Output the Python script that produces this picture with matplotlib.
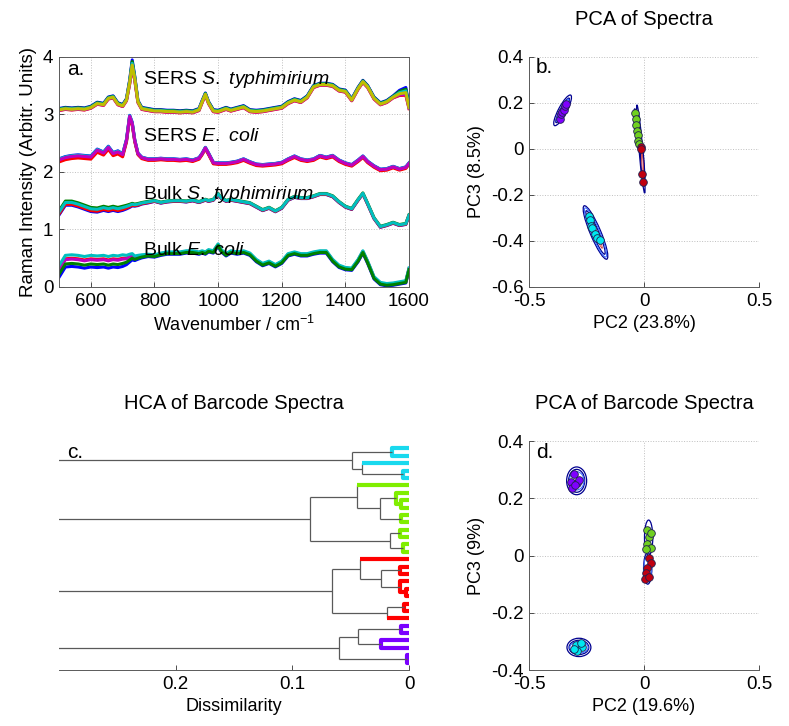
import numpy as np
import matplotlib
matplotlib.use('Agg')
import matplotlib.pyplot as plt
from matplotlib.patches import Ellipse

plt.rcParams['font.family'] = ['Liberation Sans', 'DejaVu Sans']
plt.rcParams['mathtext.fontset'] = 'custom'
plt.rcParams['mathtext.rm'] = 'Liberation Sans'
plt.rcParams['mathtext.it'] = 'Liberation Sans:italic'
plt.rcParams['font.size'] = 13
plt.rcParams['xtick.labelsize'] = 13.5
plt.rcParams['ytick.labelsize'] = 13.5

# ---- panel a: spectra ----
wn = [500, 520, 540, 560, 580, 600, 620, 640, 655, 670, 685, 700,
      712, 722, 730, 738, 748, 760, 780, 800, 820, 840, 860, 880,
      900, 920, 940, 950, 960, 970, 985, 1000, 1010, 1025, 1040, 1060,
      1080, 1100, 1120, 1140, 1160, 1180, 1200, 1220, 1240, 1260, 1280, 1300,
      1320, 1340, 1360, 1380, 1400, 1420, 1440, 1455, 1470, 1490, 1510, 1530,
      1550, 1570, 1590, 1600]

sers_styph = [3.08, 3.10, 3.09, 3.10, 3.09, 3.12, 3.19, 3.17, 3.28, 3.30, 3.18, 3.15,
              3.25, 3.55, 3.86, 3.62, 3.22, 3.10, 3.08, 3.06, 3.06, 3.05, 3.05, 3.04,
              3.05, 3.04, 3.08, 3.22, 3.35, 3.20, 3.06, 3.05, 3.07, 3.10, 3.07, 3.10,
              3.13, 3.06, 3.05, 3.06, 3.08, 3.10, 3.12, 3.20, 3.25, 3.22, 3.30, 3.48,
              3.52, 3.52, 3.50, 3.42, 3.40, 3.25, 3.45, 3.57, 3.48, 3.28, 3.18, 3.22,
              3.30, 3.36, 3.38, 3.12]
sers_ecoli = [2.21, 2.25, 2.27, 2.28, 2.27, 2.26, 2.38, 2.33, 2.43, 2.32, 2.35, 2.30,
              2.55, 2.97, 2.85, 2.55, 2.32, 2.25, 2.22, 2.22, 2.23, 2.22, 2.22, 2.21,
              2.22, 2.20, 2.24, 2.32, 2.42, 2.32, 2.16, 2.15, 2.15, 2.15, 2.16, 2.18,
              2.22, 2.17, 2.13, 2.12, 2.13, 2.14, 2.16, 2.22, 2.27, 2.22, 2.20, 2.22,
              2.28, 2.25, 2.28, 2.20, 2.15, 2.12, 2.20, 2.27, 2.18, 2.10, 2.04, 2.05,
              2.09, 2.05, 2.08, 2.15]
bulk_styph = [1.30, 1.47, 1.47, 1.44, 1.40, 1.36, 1.35, 1.38, 1.36, 1.38, 1.36, 1.38,
              1.40, 1.42, 1.44, 1.43, 1.44, 1.46, 1.48, 1.50, 1.47, 1.49, 1.50, 1.50,
              1.49, 1.51, 1.48, 1.50, 1.52, 1.50, 1.52, 1.62, 1.55, 1.50, 1.52, 1.50,
              1.48, 1.46, 1.40, 1.34, 1.38, 1.32, 1.38, 1.52, 1.57, 1.55, 1.55, 1.58,
              1.62, 1.62, 1.58, 1.48, 1.40, 1.36, 1.52, 1.63, 1.45, 1.20, 1.05, 1.08,
              1.12, 1.08, 1.10, 1.25]
bulk_ecoli = [0.22, 0.40, 0.41, 0.40, 0.38, 0.40, 0.39, 0.40, 0.38, 0.40, 0.39, 0.41,
              0.43, 0.47, 0.50, 0.48, 0.50, 0.52, 0.54, 0.53, 0.56, 0.58, 0.58, 0.58,
              0.60, 0.60, 0.58, 0.60, 0.58, 0.62, 0.60, 0.72, 0.62, 0.55, 0.60, 0.58,
              0.60, 0.56, 0.45, 0.38, 0.42, 0.36, 0.42, 0.55, 0.58, 0.55, 0.55, 0.58,
              0.60, 0.60, 0.45, 0.35, 0.31, 0.30, 0.45, 0.60, 0.42, 0.15, 0.05, 0.03,
              0.04, 0.06, 0.08, 0.30]

# replicate spread along the spectrum (how wide each bundle looks)
spread_sers_styph = [0.04] * 13 + [0.08, 0.15, 0.08] + [0.04] * 45 + [0.10, 0.15, 0.06]
spread_sers_ecoli = [0.06] * 12 + [0.05, 0.05, 0.05, 0.04] + [0.03] * 48
spread_bulk_styph = [0.08] * 12 + [0.07, 0.06, 0.05, 0.04, 0.04, 0.03, 0.03] + [0.02] * 45
spread_bulk_ecoli = [0.15] * 12 + [0.12, 0.10, 0.08, 0.06, 0.05, 0.04, 0.03] + [0.03] * 45

B, G, R, C, M, Y = '#0000ff', '#008000', '#ff0000', '#00bfbf', '#bf00bf', '#bfbf00'
reps_sers_styph = [(B, 0.6), (G, 0.4), (R, -0.3), (C, 0.2), (M, -0.2), (Y, 0.0)]
reps_sers_ecoli = [(B, 0.3), (G, -0.2), (R, -0.6), (C, 0.2), (M, 0.0)]
reps_bulk_styph = [(B, -0.6), (G, 0.3), (R, -0.4), (C, 0.0)]
reps_bulk_ecoli = [(B, -0.35), (R, 0.6), (M, 0.5), (C, 1.0), (G, 0.0)]

# ---- panel b: PCA of spectra ----
b_purple = ([-0.365, -0.36, -0.355, -0.35, -0.345, -0.34], [0.13, 0.15, 0.16, 0.17, 0.185, 0.195])
b_green = ([-0.040, -0.035, -0.033, -0.030, -0.028, -0.025, -0.022], [0.155, 0.13, 0.105, 0.08, 0.06, 0.035, 0.02])
b_red = ([-0.015, -0.012, -0.008, -0.003], [0.01, 0.0, -0.108, -0.145])
b_cyan = ([-0.24, -0.235, -0.23, -0.225, -0.215, -0.205, -0.19], [-0.29, -0.31, -0.335, -0.345, -0.37, -0.385, -0.395])
# ellipses: (cx, cy, major, minor, angle)
b_ellipses = [(-0.354, 0.168, 0.150, 0.036, 62), (-0.354, 0.168, 0.120, 0.022, 62),
              (-0.014, 0.000, 0.385, 0.016, -85), (-0.030, 0.090, 0.170, 0.020, -83),
              (-0.006, -0.070, 0.180, 0.014, -86),
              (-0.211, -0.363, 0.252, 0.046, -67), (-0.211, -0.363, 0.205, 0.028, -67)]
b_red_ellipses = [(-0.211, -0.363, 0.150, 0.012, -67), (-0.006, -0.070, 0.120, 0.006, -86)]

# ---- panel d: PCA of barcode spectra ----
d_purple = ([-0.304, -0.319, -0.290, -0.312, -0.283, -0.300], [0.284, 0.258, 0.252, 0.235, 0.264, 0.245])
d_green = ([0.014, 0.022, 0.012, 0.029, 0.007, 0.032], [0.089, 0.066, 0.042, 0.025, 0.022, 0.077])
d_red = ([0.022, 0.029, 0.014, 0.007, 0.003, 0.022], [-0.010, -0.027, -0.045, -0.062, -0.082, -0.074])
d_cyan = ([-0.297, -0.268, -0.290, -0.275, -0.305], [-0.313, -0.318, -0.332, -0.307, -0.325])
d_ellipses = [(-0.293, 0.261, 0.087, 0.097, 0), (-0.293, 0.261, 0.070, 0.080, 0),
              (0.020, 0.062, 0.036, 0.124, 0), (0.016, -0.045, 0.036, 0.110, 0),
              (-0.283, -0.321, 0.104, 0.064, 0), (-0.283, -0.321, 0.086, 0.050, 0)]

# ---- panel c: dendrogram (height, upper, lower, coloured) ; leaves 1..30 top to bottom ----
cyan_root = (0.0489, (0.0146, 1, 2, True), (0.040, 3, (0.005, 4, 5, True), False), False)
green_root = (0.0846,
              (0.0443, 6, (0.025, (0.0114, 7, (0.0066, 8, 9, True), True), (0.0066, 10, 11, True), False), False),
              (0.016, (0.008, 12, 13, True), (0.005, 14, 15, True), False), False)
red_root = (0.066,
            (0.0417, 16, (0.0243, (0.008, 17, 18, True), (0.008, 19, (0.003, 20, 21, True), True), False), False),
            (0.019, (0.004, 22, 23, True), 24, False), False)
purple_root = (0.060, (0.0437, (0.0066, 25, 26, True), (0.024, 27, 28, True), False),
               (0.002, 29, 30, True), False)
tree = (0.45, (0.38, cyan_root, green_root, False), (0.36, red_root, purple_root, False), False)
leaf_colors = ['#19d9ee'] * 5 + ['#80ee00'] * 10 + ['#ff0000'] * 9 + ['#7a00ff'] * 6
n_leaves = 30

fig = plt.figure(figsize=(7.89, 7.26), dpi=100)
ax_a = fig.add_axes([0.0748, 0.6047, 0.4436, 0.3168])
ax_b = fig.add_axes([0.6705, 0.6047, 0.2915, 0.3168])
ax_c = fig.add_axes([0.0748, 0.0771, 0.4436, 0.3154])
ax_d = fig.add_axes([0.6705, 0.0771, 0.2915, 0.3154])


def style(ax):
    ax.tick_params(direction='in', length=3.5, width=0.6, color='0.2', pad=4)
    for s in ax.spines.values():
        s.set_linewidth(0.7)
        s.set_color('0.35')


for ax in (ax_a, ax_b, ax_c, ax_d):
    style(ax)

# panel a
wn_arr = np.array(wn)
for base, spread, reps in [(bulk_ecoli, spread_bulk_ecoli, reps_bulk_ecoli),
                           (bulk_styph, spread_bulk_styph, reps_bulk_styph),
                           (sers_ecoli, spread_sers_ecoli, reps_sers_ecoli),
                           (sers_styph, spread_sers_styph, reps_sers_styph)]:
    for col, w in reps:
        ax_a.plot(wn_arr, np.array(base) + w * np.array(spread), color=col, lw=2.2)
ax_a.set_xlim(500, 1600)
ax_a.set_ylim(0, 4)
ax_a.set_xticks([600, 800, 1000, 1200, 1400, 1600])
ax_a.set_yticks([0, 1, 2, 3, 4])
ax_a.grid(True, linestyle=':', color='0.75', linewidth=0.7)
ax_a.set_axisbelow(True)
ax_a.set_xlabel('Wavenumber / cm$^{-1}$')
ax_a.set_ylabel('Raman Intensity (Arbitr. Units)', fontsize=13.5)
for y, txt in [(3.6, 'SERS $\\it{S.\\ typhimirium}$'), (2.61, 'SERS $\\it{E.\\ coli}$'),
               (1.60, 'Bulk $\\it{S.\\ typhimirium}$'), (0.64, 'Bulk $\\it{E.\\ coli}$')]:
    ax_a.text(764, y, txt, fontsize=14, va='center', ha='left', zorder=5)
ax_a.text(0.023, 0.92, 'a.', transform=ax_a.transAxes, fontsize=15, va='baseline')


def pca_panel(ax, groups, ellipses, red_ellipses):
    for x0, y0, w, h, ang in ellipses:
        ax.add_patch(Ellipse((x0, y0), w, h, angle=ang, fill=False, ec='#000090', lw=0.9))
    for x0, y0, w, h, ang in ellipses[1::2]:
        ax.add_patch(Ellipse((x0, y0), w * 0.92, h * 0.8, angle=ang, fill=False, ec='#4070ff', lw=0.8))
    for x0, y0, w, h, ang in red_ellipses:
        ax.add_patch(Ellipse((x0, y0), w, h, angle=ang, fill=False, ec='#d04040', lw=0.6))
    for (xs, ys), col in groups:
        ax.plot(xs, ys, 'o', ms=5.5, mfc=col, mec='#202050', mew=0.6, ls='none')
    ax.spines['top'].set_visible(False)
    ax.spines['right'].set_visible(False)
    ax.grid(True, linestyle=':', color='0.75', linewidth=0.7)
    ax.set_axisbelow(True)


pca_panel(ax_b, [(b_purple, '#8000ff'), (b_green, '#70d020'), (b_red, '#c00010'), (b_cyan, '#00e8f0')],
          b_ellipses, b_red_ellipses)
ax_b.set_xlim(-0.5, 0.5)
ax_b.set_ylim(-0.6, 0.4)
ax_b.set_xticks([-0.5, 0, 0.5])
ax_b.set_xticklabels(['-0.5', '0', '0.5'])
ax_b.set_yticks([-0.6, -0.4, -0.2, 0, 0.2, 0.4])
ax_b.set_yticklabels(['-0.6', '-0.4', '-0.2', '0', '0.2', '0.4'])
ax_b.set_xlabel('PC2 (23.8%)')
ax_b.set_ylabel('PC3 (8.5%)')
ax_b.set_title('PCA of Spectra', pad=23, fontsize=14.5)
ax_b.text(0.03, 0.93, 'b.', transform=ax_b.transAxes, fontsize=15, va='baseline')

pca_panel(ax_d, [(d_purple, '#8000ff'), (d_green, '#70d020'), (d_red, '#c00010'), (d_cyan, '#00e8f0')],
          d_ellipses, [])
ax_d.set_xlim(-0.5, 0.5)
ax_d.set_ylim(-0.4, 0.4)
ax_d.set_xticks([-0.5, 0, 0.5])
ax_d.set_xticklabels(['-0.5', '0', '0.5'])
ax_d.set_yticks([-0.4, -0.2, 0, 0.2, 0.4])
ax_d.set_yticklabels(['-0.4', '-0.2', '0', '0.2', '0.4'])
ax_d.set_xlabel('PC2 (19.6%)')
ax_d.set_ylabel('PC3 (9%)')
ax_d.set_title('PCA of Barcode Spectra', pad=23, fontsize=14.5)
ax_d.text(0.03, 0.926, 'd.', transform=ax_d.transAxes, fontsize=15, va='baseline')


# panel c
def first_leaf(node):
    while not isinstance(node, int):
        node = node[1]
    return node


def draw_link(ax, node):
    if isinstance(node, int):
        return 0.0, float(node)
    h, upper, lower, coloured = node
    col = leaf_colors[first_leaf(node) - 1]
    hu, yu = draw_link(ax, upper)
    hl, yl = draw_link(ax, lower)
    grey = dict(color='0.35', lw=0.9, solid_capstyle='butt')
    thick = dict(color=col, lw=3.0, solid_capstyle='butt')
    if coloured:
        ax.plot([hu, h, h, hl], [yu, yu, yl, yl], **thick)
    else:
        ax.plot([h, h], [yu, yl], **grey)
        ax.plot([hu, h], [yu, yu], **(thick if isinstance(upper, int) else grey))
        ax.plot([hl, h], [yl, yl], **(thick if isinstance(lower, int) else grey))
    return h, (yu + yl) / 2


draw_link(ax_c, tree)
ax_c.set_xlim(0.3, 0)
ax_c.set_ylim(n_leaves + 1, 0)
ax_c.set_xticks([0.2, 0.1, 0])
ax_c.set_xticklabels(['0.2', '0.1', '0'])
ax_c.set_yticks([])
for s in ('top', 'right', 'left'):
    ax_c.spines[s].set_visible(False)
ax_c.set_xlabel('Dissimilarity')
ax_c.set_title('HCA of Barcode Spectra', pad=23, fontsize=14.5)
ax_c.text(0.023, 0.926, 'c.', transform=ax_c.transAxes, fontsize=15, va='baseline')

fig.savefig('out.png', dpi=100)
